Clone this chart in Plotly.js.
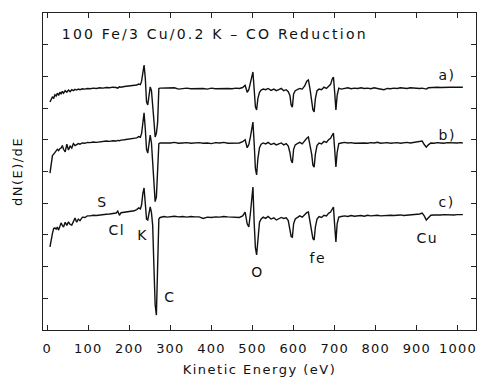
<!DOCTYPE html>
<html>
<head>
<meta charset="utf-8">
<script src="https://cdn.plot.ly/plotly-3.0.1.min.js"></script>
<style>
html,body{margin:0;padding:0;background:#fff}
#chart{width:480px;height:378px}
#chart .xtick text{letter-spacing:1.2px}
#chart .xtitle,#chart .ytitle{letter-spacing:1.5px}
#chart .annotation-text{letter-spacing:1.5px}
</style>
</head>
<body>
<div id="chart"></div>
<script>
// Kinetic energy grid (eV), shared by the three spectra
var energy = [
 7,10,13,16,19,22,25,28,31,34,
 37,40,44,48,52,56,60,64,68,72,
 76,80,86,92,98,105,112,120,128,136,
 144,152,160,168,172,176,180,188,196,204,
 212,218,223,227,230,233,236,239,242,245,
 248,251,254,257,260,263,266,269,272,275,
 279,285,292,300,310,320,330,340,350,360,
 370,380,390,400,410,420,430,440,450,460,
 468,476,482,487,491,495,498,501,504,507,
 510,513,517,521,526,532,538,545,552,558,
 564,570,576,582,587,591,594,597,600,604,
 609,615,621,627,632,636,640,644,647,650,
 653,657,662,668,674,680,685,690,694,697,
 700,703,706,710,716,724,732,740,748,756,
 764,772,780,788,796,804,812,820,828,836,
 844,852,860,868,876,884,892,900,907,913,
 918,923,928,934,942,950,958,966,974,982,
 990,998,1006,1012
];
// dN(E)/dE, offset traces (arbitrary units)
var specA = [
 7.19,7.30,7.36,7.30,7.42,7.38,7.47,7.40,7.50,7.44,
 7.53,7.47,7.55,7.50,7.57,7.52,7.58,7.55,7.59,7.57,
 7.60,7.58,7.61,7.60,7.62,7.61,7.63,7.62,7.64,7.63,
 7.65,7.64,7.66,7.65,7.63,7.67,7.66,7.68,7.69,7.70,
 7.71,7.73,7.76,7.74,7.85,8.15,8.36,7.95,7.20,7.10,
 7.50,7.67,7.55,7.15,6.60,6.09,6.20,6.55,7.62,7.63,
 7.63,7.62,7.63,7.62,7.64,7.60,7.62,7.63,7.61,7.62,
 7.63,7.62,7.60,7.63,7.61,7.62,7.63,7.62,7.61,7.63,
 7.62,7.65,7.72,7.50,7.58,7.80,8.00,8.14,7.60,7.05,
 6.94,7.30,7.50,7.57,7.60,7.58,7.62,7.56,7.60,7.55,
 7.58,7.62,7.55,7.58,7.52,7.40,7.10,7.03,7.45,7.55,
 7.58,7.62,7.60,7.70,7.85,7.89,7.60,7.30,6.95,6.88,
 7.30,7.55,7.60,7.58,7.66,7.62,7.70,7.75,7.92,7.98,
 7.50,6.94,7.40,7.63,7.60,7.62,7.64,7.61,7.63,7.62,
 7.64,7.62,7.63,7.61,7.64,7.62,7.60,7.58,7.62,7.61,
 7.63,7.62,7.64,7.63,7.62,7.64,7.63,7.64,7.62,7.63,
 7.61,7.60,7.64,7.65,7.64,7.66,7.65,7.66,7.65,7.66,
 7.66,7.65,7.66,7.66
];
var specB = [
 4.95,5.25,5.50,5.55,5.62,5.65,5.70,5.66,5.72,5.74,
 5.82,5.70,5.62,5.86,5.68,5.80,5.74,5.88,5.82,5.85,
 5.88,5.86,5.90,5.89,5.92,5.91,5.93,5.92,5.94,5.95,
 5.96,5.95,5.97,5.96,5.98,5.97,5.99,6.00,6.01,6.02,
 6.04,6.06,6.10,6.08,6.20,6.55,6.85,6.35,5.70,5.58,
 5.90,6.15,5.90,5.30,4.60,4.05,4.20,4.90,5.88,5.90,
 5.90,5.91,5.89,5.90,5.92,5.89,5.90,5.91,5.89,5.90,
 5.91,5.89,5.90,5.88,5.91,5.90,5.92,5.89,5.90,5.91,
 5.90,5.94,6.00,5.75,5.85,6.10,6.35,6.56,5.90,5.10,
 4.89,5.40,5.75,5.86,5.90,5.87,5.92,5.85,5.89,5.84,
 5.87,5.90,5.84,5.88,5.80,5.60,5.35,5.27,5.70,5.84,
 5.88,5.92,5.87,5.98,6.05,6.09,5.85,5.55,5.20,5.14,
 5.55,5.82,5.90,5.87,5.95,5.92,6.00,6.05,6.15,6.21,
 5.70,5.14,5.60,5.88,5.90,5.92,5.90,5.91,5.89,5.90,
 5.91,5.90,5.89,5.91,5.90,5.92,5.89,5.90,5.91,5.89,
 5.90,5.91,5.89,5.90,5.92,5.90,5.91,5.92,5.94,5.96,
 5.85,5.77,5.84,5.90,5.89,5.91,5.90,5.89,5.91,5.90,
 5.91,5.90,5.91,5.90
];
var specC = [
 2.62,2.90,3.05,3.20,3.22,3.18,3.25,3.15,3.30,3.38,
 3.30,3.25,3.40,3.30,3.41,3.33,3.31,3.45,3.53,3.40,
 3.50,3.45,3.56,3.55,3.60,3.60,3.62,3.61,3.63,3.64,
 3.65,3.66,3.67,3.69,3.75,3.62,3.70,3.71,3.72,3.74,
 3.76,3.80,3.85,3.82,3.95,4.30,4.48,4.00,3.50,3.47,
 3.75,3.88,3.70,3.30,2.00,0.80,0.47,1.80,3.50,3.55,
 3.57,3.58,3.56,3.58,3.59,3.57,3.58,3.56,3.58,3.57,
 3.57,3.52,3.56,3.55,3.57,3.56,3.58,3.57,3.56,3.55,
 3.55,3.60,3.72,3.35,3.25,3.70,4.10,4.51,3.40,2.60,
 2.37,2.90,3.40,3.50,3.56,3.52,3.58,3.50,3.54,3.47,
 3.50,3.55,3.52,3.54,3.45,3.20,2.95,2.93,3.35,3.50,
 3.55,3.60,3.56,3.65,3.70,3.72,3.45,3.10,2.88,2.84,
 3.25,3.50,3.58,3.55,3.62,3.60,3.68,3.72,3.82,3.88,
 3.30,2.78,3.35,3.56,3.58,3.60,3.58,3.61,3.59,3.60,
 3.61,3.59,3.62,3.60,3.61,3.62,3.60,3.61,3.63,3.62,
 3.61,3.62,3.63,3.61,3.62,3.63,3.62,3.64,3.66,3.69,
 3.60,3.47,3.55,3.62,3.63,3.62,3.63,3.64,3.63,3.64,
 3.63,3.64,3.63,3.64
];
var xTicks = [0,100,200,300,400,500,600,700,800,900,1000];
var chartTitle = "100 Fe/3 Cu/0.2 K \u2013 CO Reduction";
var traceLabels = ["a)", "b)", "c)"];
var traceLabelY = [8.04, 6.15, 4.04];
var peakLabels = ["S", "Cl", "K", "C", "O", "fe", "Cu"];
var peakLabelX = [136, 170, 234, 299, 513, 659, 925];
var peakLabelY = [4.04, 3.15, 3.00, 1.04, 1.83, 2.27, 2.90];

var lineStyle = {color: "#111", width: 1.4};
var data = [specA, specB, specC].map(function (s) {
  return {x: energy, y: s, type: "scatter", mode: "lines", line: lineStyle, hoverinfo: "skip"};
});

var txtFont = {family: "DejaVu Sans", size: 14, color: "#111"};
var ann = [];
ann.push({text: chartTitle, xref: "paper", yref: "paper", x: 0.12, y: 0.935,
  xanchor: "left", yanchor: "middle", showarrow: false, font: txtFont});
traceLabels.forEach(function (t, i) {
  ann.push({text: t, x: 973, y: traceLabelY[i], xref: "x", yref: "y", showarrow: false,
    xanchor: "center", yanchor: "middle", font: txtFont});
});
peakLabels.forEach(function (t, i) {
  ann.push({text: t, x: peakLabelX[i], y: peakLabelY[i], xref: "x", yref: "y", showarrow: false,
    xanchor: "center", yanchor: "middle", font: txtFont});
});

var layout = {
  width: 480, height: 378,
  margin: {l: 43, r: 4, t: 13, b: 48},
  paper_bgcolor: "#fff", plot_bgcolor: "#fff",
  showlegend: false,
  font: {family: "DejaVu Sans", size: 13, color: "#111"},
  xaxis: {
    range: [-10, 1044], tickvals: xTicks, ticktext: xTicks.map(String),
    ticks: "inside", ticklen: 5, tickcolor: "#222", showgrid: false, zeroline: false,
    showline: true, linecolor: "#222", linewidth: 1, mirror: "ticks",
    ticklabelstandoff: 6,
    tickfont: {family: "DejaVu Sans", size: 13, color: "#111"},
    title: {text: "Kinetic Energy (eV)", font: {family: "DejaVu Sans", size: 13, color: "#111"}, standoff: 10}
  },
  yaxis: {
    range: [0, 10], dtick: 1, tick0: 0, showticklabels: false,
    ticks: "inside", ticklen: 5, tickcolor: "#222", showgrid: false, zeroline: false,
    showline: true, linecolor: "#222", linewidth: 1, mirror: "ticks",
    title: {text: "dN(E)/dE", font: {family: "DejaVu Sans", size: 13, color: "#111"}, standoff: 16}
  },
  annotations: ann
};
Plotly.newPlot("chart", data, layout, {staticPlot: true, displayModeBar: false}).then(function () {
  var t = document.querySelectorAll("#chart .annotation-text");
  if (t.length) { t[0].style.letterSpacing = "2.2px"; }
});
</script>
</body>
</html>
